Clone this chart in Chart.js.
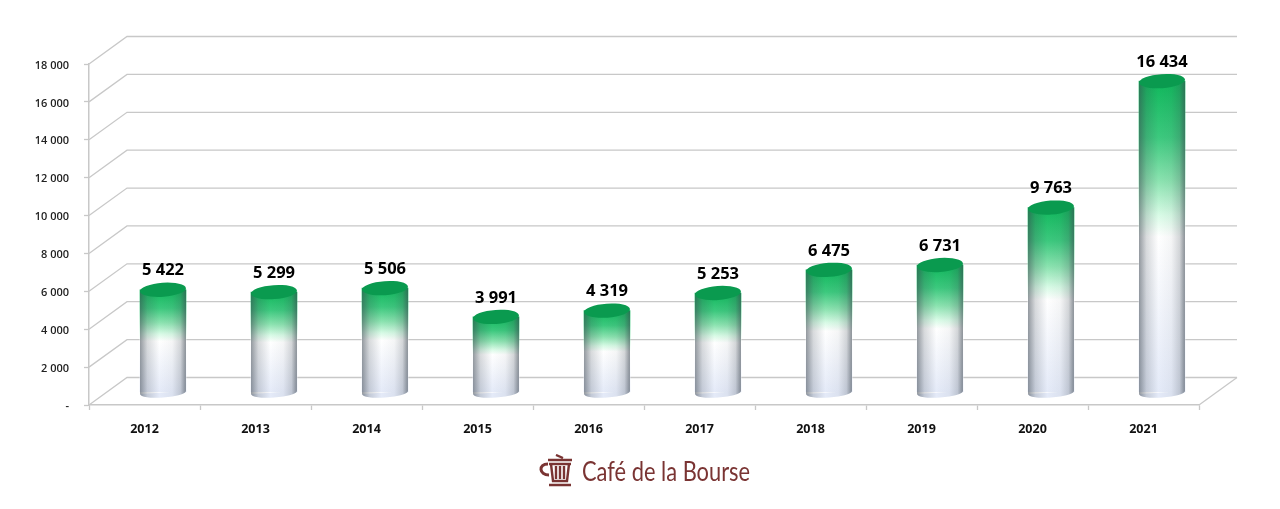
<!DOCTYPE html>
<html>
<head>
<meta charset="utf-8">
<script src="https://cdn.jsdelivr.net/npm/chart.js@4"></script>
<style>
  html, body { margin: 0; padding: 0; background: #fff; }
  #wrap { position: relative; width: 1280px; height: 509px; }
  #logo { position: absolute; left: 538px; top: 454px; display: flex; align-items: center; color: #7a3433; }
  #logo span { font: 26px Lato, sans-serif; margin-left: 6px; transform: scaleX(0.84); transform-origin: left center; white-space: nowrap; }
</style>
</head>
<body>
<div id="wrap">
  <canvas id="chart" width="1280" height="509"></canvas>
  <div id="logo">
    <svg width="38" height="34" viewBox="0 0 38 34" fill="none" stroke="#7a3433" stroke-width="2.4">
      <path d="M10 6 H34 M18 1 L25 4 M11 10 H33 M13 10 L15 27 H29 L31 10 M18 12 V25 M22 12 V25 M26 12 V25 M11 31 H33"/>
      <path d="M11 21 C1 21 0 10 10 10" stroke-width="3"/>
    </svg>
    <span>Café de la Bourse</span>
  </div>
</div>
<script>
const categories = ['2012', '2013', '2014', '2015', '2016', '2017', '2018', '2019', '2020', '2021'];
const values = [5422, 5299, 5506, 3991, 4319, 5253, 6475, 6731, 9763, 16434];
const valueLabels = ['5 422', '5 299', '5 506', '3 991', '4 319', '5 253', '6 475', '6 731', '9 763', '16 434'];
const yTickLabels = ['-', '2 000', '4 000', '6 000', '8 000', '10 000', '12 000', '14 000', '16 000', '18 000'];

// depth of the fake 3d box, and where the cylinders sit inside it
const depthX = 38, depthY = -27.5;
const barDX = 18.5, barDY = -12.5;
const gridColor = '#c8c8c8';

function barGradient(ctx, top, bottom) {
  const g = ctx.createLinearGradient(0, top, 0, bottom);
  g.addColorStop(0, '#10b85c');
  g.addColorStop(0.18, '#3cc97e');
  g.addColorStop(0.32, '#8be3b0');
  g.addColorStop(0.43, '#d8fbe6');
  g.addColorStop(0.5, '#ffffff');
  g.addColorStop(1, '#e4eaf8');
  return g;
}

const box3d = {
  id: 'box3d',
  beforeDatasetsDraw(chart) {
    const { ctx, scales: { x, y } } = chart;
    const left = x.left, right = x.right;
    ctx.save();
    ctx.strokeStyle = gridColor;
    ctx.lineWidth = 1.3;
    y.ticks.forEach(t => {
      const py = y.getPixelForValue(t.value);
      ctx.beginPath();
      ctx.moveTo(left, py);
      ctx.lineTo(left + depthX, py + depthY);
      ctx.lineTo(right + depthX, py + depthY);
      ctx.stroke();
    });
    const y0 = y.getPixelForValue(0);
    ctx.beginPath();
    ctx.moveTo(right, y0);
    ctx.lineTo(right + depthX, y0 + depthY);
    ctx.stroke();
    ctx.restore();
  },
  beforeDatasetDraw(chart, args) {
    const { ctx, scales: { y } } = chart;
    const meta = chart.getDatasetMeta(args.index);
    ctx.save();
    ctx.translate(barDX, barDY);
    // round bottom of the cylinders, under the bars
    const y0 = y.getPixelForValue(0);
    meta.data.forEach(bar => {
      const r = bar.width / 2;
      ctx.fillStyle = '#e4eaf8';
      ctx.beginPath();
      ctx.ellipse(bar.x, y0, r, 5, -0.07, 0, Math.PI);
      ctx.fill();
    });
  },
  afterDatasetDraw(chart, args) {
    const { ctx, scales: { y } } = chart;
    const meta = chart.getDatasetMeta(args.index);
    const y0 = y.getPixelForValue(0);
    meta.data.forEach((bar, i) => {
      const r = bar.width / 2;
      // side shading, clipped to the cylinder body
      const s = ctx.createLinearGradient(bar.x - r, 0, bar.x + r, 0);
      s.addColorStop(0, 'rgba(60,70,80,0.55)');
      s.addColorStop(0.16, 'rgba(60,70,80,0.2)');
      s.addColorStop(0.42, 'rgba(60,70,80,0)');
      s.addColorStop(0.7, 'rgba(60,70,80,0.05)');
      s.addColorStop(0.88, 'rgba(60,70,80,0.22)');
      s.addColorStop(1, 'rgba(60,70,80,0.6)');
      ctx.fillStyle = s;
      ctx.beginPath();
      ctx.moveTo(bar.x - r, bar.y);
      ctx.lineTo(bar.x - r, y0);
      ctx.ellipse(bar.x, y0, r, 5, -0.07, Math.PI, 0, true);
      ctx.lineTo(bar.x + r, bar.y);
      ctx.closePath();
      ctx.fill();
      // lid, slightly tilted
      ctx.fillStyle = '#0a9a4f';
      ctx.beginPath();
      ctx.ellipse(bar.x, bar.y, r, 7, -0.07, 0, Math.PI * 2);
      ctx.fill();
      // value above it
      ctx.fillStyle = '#000';
      ctx.font = 'bold 16.5px "Open Sans", sans-serif';
      ctx.textAlign = 'center';
      ctx.textBaseline = 'middle';
      ctx.fillText(valueLabels[i], bar.x, bar.y - 19);
    });
    ctx.restore();
  }
};

new Chart(document.getElementById('chart'), {
  type: 'bar',
  data: {
    labels: categories,
    datasets: [{
      data: values,
      barThickness: 46,
      borderWidth: 0,
      backgroundColor(c) {
        const { chart, dataIndex } = c;
        const y = chart.scales.y;
        if (!y || !chart.chartArea) return '#10b85c';
        return barGradient(chart.ctx, y.getPixelForValue(values[dataIndex]), y.getPixelForValue(0));
      }
    }]
  },
  plugins: [box3d],
  options: {
    responsive: false,
    animation: false,
    layout: { padding: { left: 0, right: 81, top: 64, bottom: 0 } },
    plugins: { legend: { display: false }, tooltip: { enabled: false } },
    scales: {
      x: {
        afterFit(s) { s.height = 104; },
        grid: { display: true, drawOnChartArea: false, color: gridColor, tickLength: 5, tickWidth: 1.3 },
        border: { color: gridColor, width: 1.5 },
        ticks: { color: '#111', font: { family: '"Open Sans", sans-serif', size: 12.5, weight: 'bold' }, padding: 12, maxRotation: 0 }
      },
      y: {
        min: 0,
        max: 18000,
        afterFit(s) { s.width = 89; },
        grid: { display: true, drawOnChartArea: false, color: gridColor, tickLength: 5, tickWidth: 1.3 },
        border: { color: gridColor, width: 1.5 },
        ticks: {
          stepSize: 2000,
          color: '#222',
          padding: 15,
          labelOffset: 1.5,
          font: { family: '"Open Sans", sans-serif', size: 11, weight: '600' },
          callback: (v, i) => yTickLabels[i]
        }
      }
    }
  }
});
</script>
</body>
</html>
